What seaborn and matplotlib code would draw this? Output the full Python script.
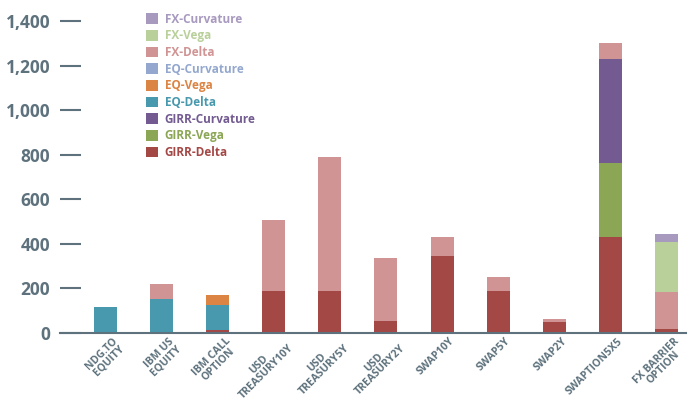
import numpy as np
import pandas as pd
import matplotlib.pyplot as plt
import matplotlib.transforms as mtransforms
import seaborn as sns
from matplotlib.patches import Patch

sns.set_theme(style="white")
plt.rcParams["font.family"] = ["Open Sans", "DejaVu Sans"]

# ── Data ────────────────────────────────────────────────────────────────────
instruments = ["NDG.TO\nEQUITY", "IBM US\nEQUITY", "IBM CALL\nOPTION",
               "USD\nTREASURY10Y", "USD\nTREASURY5Y", "USD\nTREASURY2Y",
               "SWAP10Y", "SWAP5Y", "SWAP2Y", "SWAPTION5X5",
               "FX BARRIER\nOPTION"]

girr_delta     = [0, 0, 12, 188, 188, 54, 345, 188, 51, 430, 20]
girr_vega      = [0, 0, 0, 0, 0, 0, 0, 0, 0, 332, 0]
girr_curvature = [0, 0, 0, 0, 0, 0, 0, 0, 0, 467, 0]
eq_delta       = [117, 154, 113, 0, 0, 0, 0, 0, 0, 0, 0]
eq_vega        = [0, 0, 45, 0, 0, 0, 0, 0, 0, 0, 0]
eq_curvature   = [0, 0, 0, 0, 0, 0, 0, 0, 0, 0, 0]
fx_delta       = [0, 66, 0, 317, 602, 282, 85, 63, 11, 72, 164]
fx_vega        = [0, 0, 0, 0, 0, 0, 0, 0, 0, 0, 224]
fx_curvature   = [0, 0, 0, 0, 0, 0, 0, 0, 0, 0, 36]

# bottom -> top
series = [
    ("GIRR-Delta",     girr_delta,     "#a44846"),
    ("GIRR-Vega",      girr_vega,      "#8ba655"),
    ("GIRR-Curvature", girr_curvature, "#735b91"),
    ("EQ-Delta",       eq_delta,       "#4899ae"),
    ("EQ-Vega",        eq_vega,        "#dc8443"),
    ("EQ-Curvature",   eq_curvature,   "#94a8cf"),
    ("FX-Delta",       fx_delta,       "#d09494"),
    ("FX-Vega",        fx_vega,        "#b9d09a"),
    ("FX-Curvature",   fx_curvature,   "#a899bf"),
]

df = pd.DataFrame({name: vals for name, vals, _ in series})
cum = df.cumsum(axis=1)
cum["Instrument"] = instruments

axis_col = "#5e727d"

# ── Plot ────────────────────────────────────────────────────────────────────
fig = plt.figure(figsize=(6.89, 4.0), dpi=100)
ax = fig.add_axes([60 / 689, 67 / 400, 626 / 689, 318.7 / 400])

# draw cumulative totals top-first so lower segments sit over them
for name, _, color in reversed(series):
    sns.barplot(data=cum, x="Instrument", y=name, color=color,
                width=0.41, ax=ax, saturation=1, order=instruments,
                edgecolor="none")

ax.set_xlim(-0.8125, 10.35)
ax.set_ylim(0, 1430)
ax.set_yticks(range(0, 1401, 200))
ax.set_yticklabels([f"{v:,}" for v in range(0, 1401, 200)],
                   fontsize=12.5, fontweight="bold", color=axis_col)
ax.tick_params(axis="y", direction="in", length=15, width=1.5,
               color=axis_col, pad=7, left=True)
ax.tick_params(axis="x", length=0, pad=2)
ax.set_xticks(range(len(instruments)))
ax.set_xticklabels(instruments, rotation=45, ha="right", va="top",
                   rotation_mode="anchor", multialignment="center",
                   fontsize=7.6, fontweight="bold", color=axis_col)
shift = mtransforms.ScaledTranslation(5 / 72, 0, fig.dpi_scale_trans)
for lbl in ax.get_xticklabels():
    lbl.set_linespacing(0.86)
    lbl.set_transform(lbl.get_transform() + shift)
ax.set_xlabel("")
ax.set_ylabel("")
for s in ["top", "right", "left"]:
    ax.spines[s].set_visible(False)
ax.spines["bottom"].set_color(axis_col)
ax.spines["bottom"].set_linewidth(1.5)

handles = [Patch(facecolor=c, edgecolor="none", label=n)
           for n, _, c in reversed(series)]
leg = ax.legend(handles=handles, loc="upper left",
                bbox_to_anchor=(81 / 626, 1.02), frameon=False,
                handlelength=1.0, handleheight=1.0, handletextpad=0.6,
                labelspacing=0.31, borderaxespad=0,
                prop={"weight": "bold", "size": 8.5})
for txt, (_, _, c) in zip(leg.get_texts(), reversed(series)):
    txt.set_color(c)

fig.savefig("out.png", dpi=100)
